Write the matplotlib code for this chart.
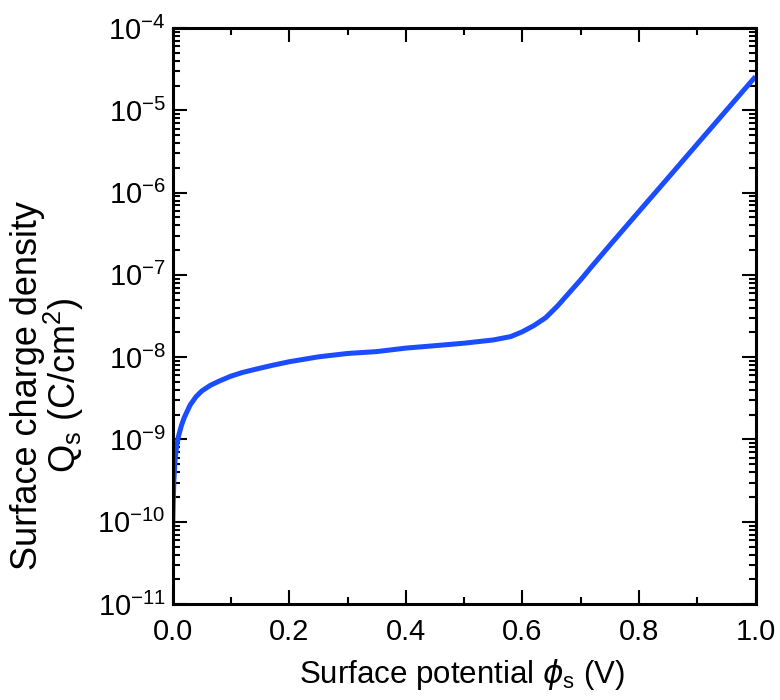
import matplotlib
matplotlib.use("Agg")
import matplotlib.pyplot as plt
from matplotlib.ticker import MultipleLocator, LogLocator, NullFormatter

plt.rcParams['font.family'] = ['Liberation Sans', 'DejaVu Sans']
plt.rcParams['mathtext.fontset'] = 'custom'
plt.rcParams['mathtext.rm'] = 'Liberation Sans'
plt.rcParams['mathtext.it'] = 'DejaVu Sans:italic'
plt.rcParams['mathtext.fallback'] = 'stixsans'

# Surface potential (V)
phi_s = [0.0, 0.001, 0.002, 0.004, 0.007, 0.01, 0.015, 0.02, 0.03, 0.04,
         0.05, 0.065, 0.08, 0.10, 0.12, 0.14, 0.17, 0.20, 0.25, 0.30,
         0.35, 0.40, 0.45, 0.50, 0.55, 0.58, 0.60, 0.62, 0.64, 0.66,
         0.68, 0.70, 0.72, 0.75, 0.80, 0.85, 0.90, 0.95, 1.00]
# Surface charge density Qs (C/cm^2)
Q_s = [8.5e-11, 1.78e-10, 3.16e-10, 5.6e-10, 8.5e-10, 1.10e-9, 1.48e-9, 1.86e-9, 2.63e-9, 3.31e-9,
       3.89e-9, 4.57e-9, 5.13e-9, 5.89e-9, 6.53e-9, 7.08e-9, 7.94e-9, 8.81e-9, 1.01e-8, 1.11e-8,
       1.17e-8, 1.29e-8, 1.38e-8, 1.48e-8, 1.62e-8, 1.78e-8, 2.04e-8, 2.43e-8, 3.02e-8, 4.17e-8,
       6.03e-8, 8.71e-8, 1.29e-7, 2.29e-7, 5.89e-7, 1.51e-6, 3.89e-6, 1.0e-5, 2.57e-5]

x_ticks = [0.0, 0.2, 0.4, 0.6, 0.8, 1.0]
x_ticklabels = ['0.0', '0.2', '0.4', '0.6', '0.8', '1.0']
y_exponents = [-11, -10, -9, -8, -7, -6, -5, -4]

fig = plt.figure(figsize=(7.8, 7.0), dpi=100)
ax = fig.add_axes([0.2214, 0.137, 0.7472, 0.823])

ax.plot(phi_s, Q_s, color='#1a4dff', lw=3.6, solid_capstyle='butt')
ax.set_yscale('log')
ax.set_xlim(0, 1.0)
ax.set_ylim(1e-11, 1e-4)

ax.set_xticks(x_ticks)
ax.set_xticklabels(x_ticklabels)
ax.xaxis.set_minor_locator(MultipleLocator(0.1))
ax.set_yticks([10.0**e for e in y_exponents])
ax.set_yticklabels([r'$\mathregular{10^{%d}}$' % e for e in y_exponents])
ax.yaxis.set_minor_locator(LogLocator(base=10, subs=range(2, 10), numticks=20))
ax.yaxis.set_minor_formatter(NullFormatter())

ax.tick_params(which='both', direction='in', top=True, right=True, width=1.5)
ax.tick_params(which='major', length=10, labelsize=21)
ax.tick_params(axis='x', which='major', pad=10)
ax.tick_params(axis='y', which='major', pad=5)
ax.tick_params(which='minor', length=5)
for s in ax.spines.values():
    s.set_linewidth(2.2)

fig.text(462/780, 1 - 675/700, r'Surface potential $\mathit{\phi}_{\mathrm{s}}$ (V)',
         ha='center', va='center', fontsize=22.5)
fig.text(28/780, 1 - 385/700, 'Surface charge density', rotation=90,
         ha='center', va='center', fontsize=26)
fig.text(64/780, 1 - 385/700, r'Q$_{\mathrm{s}}$ (C/cm$^{2}$)', rotation=90,
         ha='center', va='center', fontsize=26)

fig.savefig('out.png', dpi=100, facecolor='white')
